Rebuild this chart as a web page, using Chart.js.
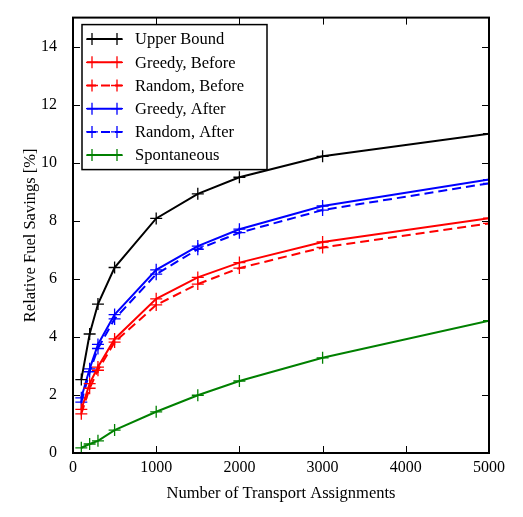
<!DOCTYPE html>
<html>
<head>
<meta charset="utf-8">
<title>Relative Fuel Savings</title>
<script src="https://cdn.jsdelivr.net/npm/chart.js@4.4.0/dist/chart.umd.min.js"></script>
<style>
    html, body { margin: 0; padding: 0; background: #fff; }
    #wrap { width: 523px; height: 517px; }
</style>
</head>
<body>
<div id="wrap"><canvas id="fuelChart" width="523" height="517"></canvas></div>
<script>
// ------------------------------------------------------------
//  DATA
// ------------------------------------------------------------
const assignments = [100, 200, 300, 500, 1000, 1500, 2000, 3000, 5000];

const upperBound    = [2.53, 4.10, 5.13, 6.39, 8.08, 8.93, 9.50, 10.22, 11.00];
const greedyBefore  = [1.50, 2.39, 2.96, 3.93, 5.31, 6.05, 6.56, 7.27, 8.09];
const randomBefore  = [1.35, 2.23, 2.85, 3.82, 5.10, 5.82, 6.37, 7.08, 7.91];
const greedyAfter   = [1.90, 2.90, 3.74, 4.77, 6.31, 7.13, 7.71, 8.51, 9.42];
const randomAfter   = [1.75, 2.80, 3.60, 4.62, 6.16, 7.02, 7.59, 8.37, 9.29];
const spontaneous   = [0.18, 0.31, 0.42, 0.79, 1.42, 1.99, 2.48, 3.28, 4.56];

const xTicks = [0, 1000, 2000, 3000, 4000, 5000];
const yTicks = [0, 2, 4, 6, 8, 10, 12, 14];

const FONT = "'Liberation Serif', 'DejaVu Serif', serif";

function series(label, values, color, dashed) {
    return {
        label: label,
        data: assignments.map((x, i) => ({ x: x, y: values[i] })),
        borderColor: color,
        backgroundColor: color,
        borderWidth: 2,
        borderDash: dashed ? [9, 5] : [],
        pointStyle: "cross",
        pointRadius: 6,
        pointBorderWidth: 1.3,
        pointHoverRadius: 6,
        tension: 0,
        fill: false
    };
}

// ------------------------------------------------------------
//  PLUGINS: inward ticks, frame, legend
// ------------------------------------------------------------
const framePlugin = {
    id: "frame",
    afterDatasetsDraw(chart) {
        const ctx = chart.ctx;
        const a = chart.chartArea;
        const xs = chart.scales.x, ys = chart.scales.y;
        const len = 7;
        ctx.save();
        ctx.strokeStyle = "#000";
        ctx.lineWidth = 1;
        ctx.beginPath();
        xTicks.forEach(v => {
            const px = Math.round(xs.getPixelForValue(v)) + 0.5;
            ctx.moveTo(px, a.bottom); ctx.lineTo(px, a.bottom - len);
            ctx.moveTo(px, a.top); ctx.lineTo(px, a.top + len);
        });
        yTicks.forEach(v => {
            const py = Math.round(ys.getPixelForValue(v)) + 0.5;
            ctx.moveTo(a.left, py); ctx.lineTo(a.left + len, py);
            ctx.moveTo(a.right, py); ctx.lineTo(a.right - len, py);
        });
        ctx.stroke();
        ctx.lineWidth = 2;
        ctx.strokeRect(a.left, a.top, a.right - a.left, a.bottom - a.top);
        ctx.restore();
    }
};

const legendPlugin = {
    id: "boxLegend",
    afterDraw(chart) {
        const ctx = chart.ctx;
        const a = chart.chartArea;
        const left = a.left + 9, top = a.top + 7;
        const w = 185, h = 145;
        ctx.save();
        ctx.fillStyle = "#fff";
        ctx.fillRect(left, top, w, h);
        ctx.strokeStyle = "#000";
        ctx.lineWidth = 1.5;
        ctx.strokeRect(left, top, w, h);

        ctx.font = "16.5px " + FONT;
        ctx.textBaseline = "middle";
        chart.data.datasets.forEach((ds, i) => {
            const y = top + 14.5 + i * 23.2;
            const x0 = left + 5, x1 = left + 40;
            ctx.strokeStyle = ds.borderColor;
            ctx.lineWidth = 2;
            ctx.setLineDash(ds.borderDash);
            ctx.beginPath();
            ctx.moveTo(x0, y); ctx.lineTo(x1, y);
            ctx.stroke();
            ctx.setLineDash([]);
            ctx.lineWidth = 1.3;
            ctx.beginPath();
            [x0 + 5, x1 - 5].forEach(mx => {
                ctx.moveTo(mx - 6, y); ctx.lineTo(mx + 6, y);
                ctx.moveTo(mx, y - 6); ctx.lineTo(mx, y + 6);
            });
            ctx.stroke();
            ctx.fillStyle = "#000";
            ctx.fillText(ds.label, left + 53, y + 1);
        });
        ctx.restore();
    }
};

// ------------------------------------------------------------
//  CHART
// ------------------------------------------------------------
new Chart(document.getElementById("fuelChart"), {
    type: "line",
    data: {
        datasets: [
            series("Upper Bound", upperBound, "#000000", false),
            series("Greedy, Before", greedyBefore, "#ff0000", false),
            series("Random, Before", randomBefore, "#ff0000", true),
            series("Greedy, After", greedyAfter, "#0000ff", false),
            series("Random, After", randomAfter, "#0000ff", true),
            series("Spontaneous", spontaneous, "#008000", false)
        ]
    },
    options: {
        responsive: false,
        animation: false,
        devicePixelRatio: 1,
        layout: { padding: { top: 15, right: 34, left: 0, bottom: 0 } },
        plugins: {
            legend: { display: false },
            tooltip: { enabled: false }
        },
        scales: {
            x: {
                type: "linear",
                min: 0,
                max: 5000,
                afterFit: s => { s.height = 64; },
                afterBuildTicks: s => { s.ticks = xTicks.map(v => ({ value: v })); },
                grid: { display: false },
                border: { display: false },
                ticks: {
                    color: "#000",
                    padding: -3,
                    maxRotation: 0,
                    callback: v => String(v),
                    font: { family: FONT, size: 16 }
                },
                title: {
                    display: true,
                    text: "Number of Transport Assignments",
                    color: "#000",
                    padding: { top: 0, bottom: 13 },
                    font: { family: FONT, size: 16.5 }
                }
            },
            y: {
                type: "linear",
                min: 0,
                max: 15,
                afterFit: s => { s.width = 73; },
                afterBuildTicks: s => { s.ticks = yTicks.map(v => ({ value: v })); },
                grid: { display: false },
                border: { display: false },
                ticks: {
                    color: "#000",
                    padding: 8,
                    callback: v => String(v),
                    font: { family: FONT, size: 16 }
                },
                title: {
                    display: true,
                    text: "Relative Fuel Savings [%]",
                    color: "#000",
                    padding: { top: 21, bottom: 0 },
                    font: { family: FONT, size: 16.5 }
                }
            }
        }
    },
    plugins: [framePlugin, legendPlugin]
});
</script>
</body>
</html>
